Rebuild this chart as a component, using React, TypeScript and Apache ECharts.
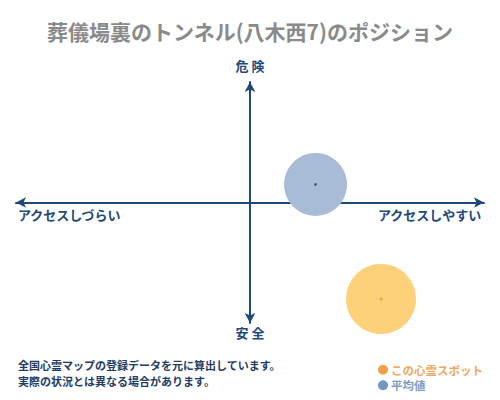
import React, { useEffect, useRef } from 'react';
import * as echarts from 'echarts';

// 位置データ（横: アクセス, 縦: 危険度）
const spotName = 'この心霊スポット';
const avgName = '平均値';
const spotPoint: number[] = [5.6, -8.0];
const avgPoint: number[] = [2.8, 1.5];
const axisRange: number[] = [-10, 10];

const titleText = '葬儀場裏のトンネル(八木西7)のポジション';
const topLabel = '危 険';
const bottomLabel = '安 全';
const leftLabel = 'アクセスしづらい';
const rightLabel = 'アクセスしやすい';
const noteLines: string[] = [
  '全国心霊マップの登録データを元に算出しています。',
  '実際の状況とは異なる場合があります。',
];

const FONT = '"Noto Sans CJK JP", "Noto Sans", sans-serif';
const NAVY = '#1d4a78';

const App: React.FC = () => {
  const chartRef = useRef<HTMLDivElement>(null);

  useEffect(() => {
    if (!chartRef.current) return;
    const chart = echarts.init(chartRef.current, null, { renderer: 'svg' });

    const axisCommon = {
      type: 'value' as const,
      min: axisRange[0],
      max: axisRange[1],
      splitLine: { show: false },
      axisTick: { show: false },
      axisLabel: { show: false },
      axisLine: {
        show: true,
        onZero: true,
        symbol: ['arrow', 'arrow'],
        symbolSize: [8, 10],
        lineStyle: { color: NAVY, width: 2 },
      },
    };

    const options: echarts.EChartsOption = {
      animation: false,
      textStyle: { fontFamily: FONT },
      title: {
        text: titleText,
        left: 'center',
        top: 15,
        textStyle: { fontFamily: FONT, fontSize: 21, fontWeight: 'bold', color: '#8a8a8a' },
      },
      grid: { left: 16, right: 16, top: 82, bottom: 77 },
      xAxis: axisCommon,
      yAxis: axisCommon,
      legend: {
        orient: 'vertical',
        left: 373,
        top: 359,
        itemWidth: 10,
        itemHeight: 10,
        itemGap: 4,
        icon: 'circle',
        data: [
          { name: spotName, itemStyle: { color: '#f0a048' }, textStyle: { color: '#eea860' } },
          { name: avgName, itemStyle: { color: '#6f98c2' }, textStyle: { color: '#7c9cc0' } },
        ],
        textStyle: { fontFamily: FONT, fontSize: 11.5, fontWeight: 'bold', padding: [0, 0, 0, -2] },
      },
      series: [
        {
          name: avgName,
          type: 'scatter',
          data: [avgPoint],
          symbolSize: 63,
          itemStyle: { color: '#a9bcd6', opacity: 1 },
          silent: true,
          z: 2,
        },
        {
          name: spotName,
          type: 'scatter',
          data: [spotPoint],
          symbolSize: 70,
          itemStyle: { color: '#fdd07a', opacity: 1 },
          silent: true,
          z: 2,
        },
        {
          type: 'scatter',
          data: [avgPoint],
          symbolSize: 2.5,
          itemStyle: { color: '#1a2a3a' },
          z: 3,
        },
        {
          type: 'scatter',
          data: [spotPoint],
          symbolSize: 4,
          symbol: 'diamond',
          itemStyle: { color: '#f0a020' },
          z: 3,
        },
      ],
      graphic: [
        {
          type: 'text',
          left: 'center',
          top: 59,
          style: { text: topLabel, font: `bold 13px ${FONT}`, fill: NAVY },
        },
        {
          type: 'text',
          left: 'center',
          top: 326,
          style: { text: bottomLabel, font: `bold 13px ${FONT}`, fill: NAVY },
        },
        {
          type: 'text',
          left: 18,
          top: 208,
          style: { text: leftLabel, font: `bold 13px ${FONT}`, fill: NAVY },
        },
        {
          type: 'text',
          right: 18,
          top: 208,
          style: { text: rightLabel, font: `bold 13px ${FONT}`, fill: NAVY },
        },
        {
          type: 'text',
          left: 18,
          top: 359,
          style: { text: noteLines[0], font: `bold 11px ${FONT}`, fill: '#1f3c63' },
        },
        {
          type: 'text',
          left: 18,
          top: 375,
          style: { text: noteLines[1], font: `bold 11px ${FONT}`, fill: '#1f3c63' },
        },
      ],
    };

    chart.setOption(options);
    return () => {
      chart.dispose();
    };
  }, []);

  return <div ref={chartRef} style={{ width: 500, height: 400, margin: -8 }} />;
};

export default App;
